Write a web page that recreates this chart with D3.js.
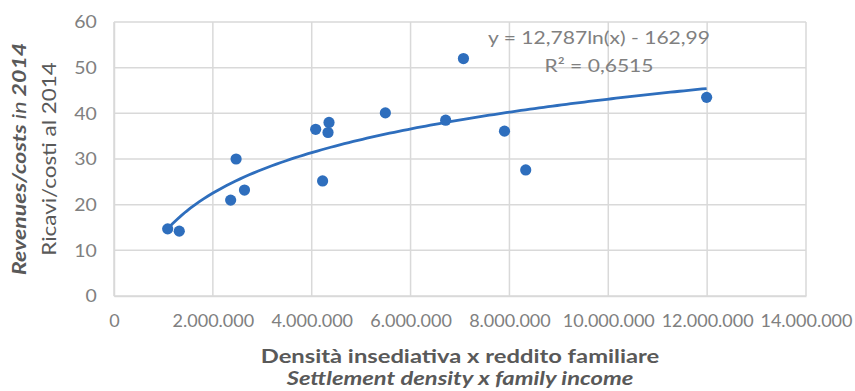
<!DOCTYPE html>
<html>
<head>
<meta charset="utf-8">
<script src="https://cdn.jsdelivr.net/npm/d3@7/dist/d3.min.js"></script>
<style>
  body { margin: 0; background: #fff; }
  text { font-family: Lato, "Open Sans", sans-serif; }
</style>
</head>
<body>
<svg id="chart"></svg>
<script>
// Data
const density = [1086000, 1320000, 2360000, 2640000, 2470000, 4080000, 4330000, 4350000,
  4220000, 5490000, 6710000, 7070000, 7900000, 8330000, 11990000];
const ratio = [14.7, 14.2, 21.0, 23.2, 30.0, 36.5, 35.8, 38.0,
  25.2, 40.1, 38.5, 52.0, 36.1, 27.6, 43.5];
const xTicks = [0, 2000000, 4000000, 6000000, 8000000, 10000000, 12000000, 14000000];
const yTicks = [0, 10, 20, 30, 40, 50, 60];
// trendline label coefficients: y = a ln(x) + b
const trendA = 12.787;
const trendB = -162.99;

const width = 855, height = 391;
const margin = { top: 22, right: 49, bottom: 95, left: 114 };
const w = width - margin.left - margin.right;
const h = height - margin.top - margin.bottom;

const svg = d3.select('#chart')
  .attr('width', width)
  .attr('height', height);

const g = svg.append('g')
  .attr('transform', 'translate(' + margin.left + ',' + margin.top + ')');

const x = d3.scaleLinear().domain([0, 14000000]).range([0, w]);
const y = d3.scaleLinear().domain([0, 60]).range([h, 0]);

const fmt = v => d3.format(',')(v).replace(/,/g, '.');

// gridlines
g.selectAll('.hgrid').data(yTicks).enter().append('line')
  .attr('x1', 0).attr('x2', w)
  .attr('y1', d => y(d)).attr('y2', d => y(d))
  .attr('stroke', '#d9d9d9').attr('stroke-width', 1.5);
g.selectAll('.vgrid').data(xTicks).enter().append('line')
  .attr('y1', 0).attr('y2', h)
  .attr('x1', d => x(d)).attr('x2', d => x(d))
  .attr('stroke', '#d9d9d9').attr('stroke-width', 1.5);

// x axis
const xAxis = g.append('g')
  .attr('transform', 'translate(0,' + h + ')')
  .call(d3.axisBottom(x).tickValues(xTicks).tickFormat(fmt).tickSize(0).tickPadding(18));
xAxis.select('.domain').attr('stroke', '#d9d9d9').attr('stroke-width', 1.5);
xAxis.selectAll('text')
  .attr('font-family', 'Lato, sans-serif')
  .attr('font-size', 18).attr('fill', '#808080');

// y axis
const yAxis = g.append('g')
  .call(d3.axisLeft(y).tickValues(yTicks).tickSize(0).tickPadding(16));
yAxis.select('.domain').attr('stroke', '#d9d9d9').attr('stroke-width', 1.5);
yAxis.selectAll('text')
  .attr('font-family', 'Lato, sans-serif')
  .attr('font-size', 18).attr('fill', '#808080')
  .attr('transform', 'scale(1.08,1)');

// trendline
const xs = d3.range(120).map(i => d3.min(density) + i * (d3.max(density) - d3.min(density)) / 119);
g.append('path')
  .datum(xs)
  .attr('fill', 'none')
  .attr('stroke', '#2e6ebd')
  .attr('stroke-width', 2.8)
  .attr('d', d3.line()
    .x(d => x(d))
    .y(d => y(trendA * Math.log(d) + trendB)));

// points
g.selectAll('.dot').data(density).enter().append('circle')
  .attr('cx', d => x(d))
  .attr('cy', (d, i) => y(ratio[i]))
  .attr('r', 5.6)
  .attr('fill', '#2e6ebd');

// trendline label
const eq = g.append('text')
  .attr('transform', 'translate(485,0) scale(1.17,1)')
  .attr('text-anchor', 'middle')
  .attr('font-size', 18)
  .attr('fill', '#808080');
eq.append('tspan').attr('x', 0).attr('y', 22)
  .text('y = ' + String(trendA).replace('.', ',') + 'ln(x) - ' + String(-trendB).replace('.', ','));
eq.append('tspan').attr('x', 0).attr('y', 50)
  .text('R² = 0,6515');

// x axis title
const xt = svg.append('text')
  .attr('transform', 'translate(' + (margin.left + w / 2) + ',0) scale(1.25,1)')
  .attr('text-anchor', 'middle')
  .attr('font-size', 19)
  .attr('font-weight', 'bold')
  .attr('fill', '#595959');
xt.append('tspan').attr('x', 0).attr('y', 363)
  .text('Densità insediativa x reddito familiare');
xt.append('tspan').attr('x', 0).attr('y', 385)
  .attr('font-style', 'italic')
  .text('Settlement density x family income');

// y axis title
const cy = margin.top + h / 2;
const yt1 = svg.append('text')
  .attr('transform', 'translate(0,' + cy + ') rotate(-90) scale(1.22,1)')
  .attr('text-anchor', 'middle')
  .attr('fill', '#595959')
  .attr('font-size', 19).attr('font-style', 'italic')
  .attr('x', 0).attr('y', 26);
yt1.append('tspan').attr('font-weight', 'bold').text('Revenues/costs ');
yt1.append('tspan').text('in');
yt1.append('tspan').attr('font-weight', 'bold').text(' 2014');
svg.append('text')
  .attr('transform', 'translate(0,' + cy + ') rotate(-90) scale(1.12,1)')
  .attr('text-anchor', 'middle')
  .attr('fill', '#595959')
  .attr('font-size', 20)
  .attr('x', 0).attr('y', 56)
  .text('Ricavi/costi al 2014');
</script>
</body>
</html>
